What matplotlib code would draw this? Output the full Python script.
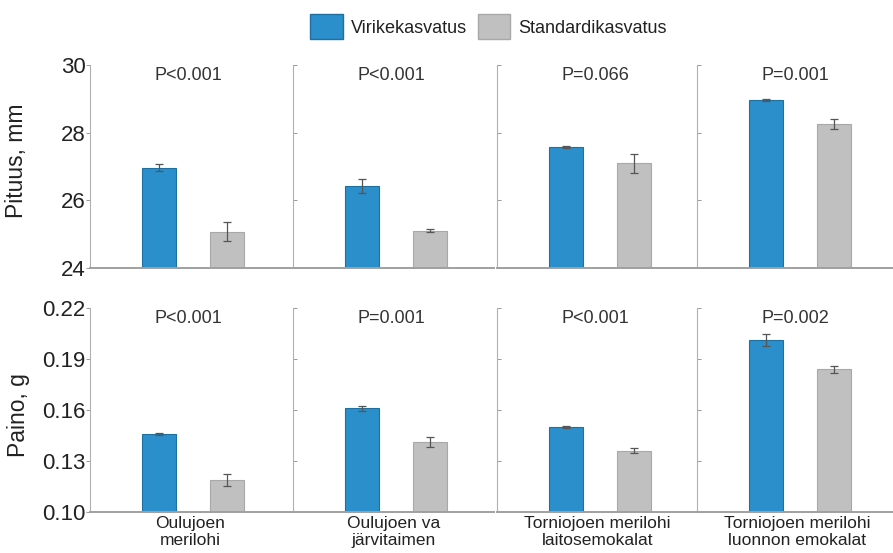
import matplotlib.pyplot as plt
from matplotlib.patches import Patch

plt.rcParams['font.family'] = ['Liberation Sans', 'DejaVu Sans']

# Data
groups = ['Oulujoen\nmerilohi', 'Oulujoen va\njärvitaimen',
          'Torniojoen merilohi\nlaitosemokalat', 'Torniojoen merilohi\nluonnon emokalat']
series = ['Virikekasvatus', 'Standardikasvatus']

length_viri = [26.97, 26.42, 27.58, 28.97]
length_viri_err = [0.10, 0.20, 0.02, 0.03]
length_std = [25.07, 25.10, 27.10, 28.25]
length_std_err = [0.28, 0.05, 0.28, 0.15]
length_p = ['P<0.001', 'P<0.001', 'P=0.066', 'P=0.001']

weight_viri = [0.146, 0.161, 0.150, 0.201]
weight_viri_err = [0.0005, 0.0015, 0.0008, 0.0035]
weight_std = [0.119, 0.141, 0.136, 0.184]
weight_std_err = [0.0035, 0.003, 0.0015, 0.002]
weight_p = ['P<0.001', 'P=0.001', 'P<0.001', 'P=0.002']

blue = '#2b8fcb'
gray = '#c0c0c0'

fig = plt.figure(figsize=(8.93, 5.53), dpi=100)
W, H = 893, 553
lefts = [90, 293, 497, 697]
rows = [
    dict(top=65, bottom=268, viri=length_viri, viri_err=length_viri_err,
         std=length_std, std_err=length_std_err, p=length_p,
         ylim=(24, 30), yticks=[24, 26, 28, 30], ytl=['24', '26', '28', '30'],
         ylabel='Pituus, mm', lab_xy=(-0.31, 0.53)),
    dict(top=308, bottom=512, viri=weight_viri, viri_err=weight_viri_err,
         std=weight_std, std_err=weight_std_err, p=weight_p,
         ylim=(0.10, 0.22), yticks=[0.10, 0.13, 0.16, 0.19, 0.22],
         ytl=['0.10', '0.13', '0.16', '0.19', '0.22'], ylabel='Paino, g',
         lab_xy=(-0.30, 0.475)),
]

for r, row in enumerate(rows):
    for i, left in enumerate(lefts):
        ax = fig.add_axes([left / W, 1 - row['bottom'] / H, 201 / W,
                           (row['bottom'] - row['top']) / H])
        ax.bar(0.343, row['viri'][i], width=0.17, color=blue,
               edgecolor='#1f6f9f', linewidth=0.8, zorder=2)
        ax.bar(0.68, row['std'][i], width=0.17, color=gray,
               edgecolor='#a8a8a8', linewidth=0.8, zorder=2)
        ax.errorbar([0.343, 0.68], [row['viri'][i], row['std'][i]],
                    yerr=[row['viri_err'][i], row['std_err'][i]], fmt='none',
                    ecolor='#555555', elinewidth=0.9, capsize=3, capthick=0.9, zorder=3)
        ax.set_xlim(0, 1)
        ax.set_ylim(*row['ylim'])
        ax.set_yticks(row['yticks'])
        ax.text(0.49, 0.95, row['p'][i], transform=ax.transAxes, ha='center',
                va='center', fontsize=13, color='#333333')
        for s in ['top', 'right']:
            ax.spines[s].set_visible(False)
        ax.spines['left'].set_color('#b0b0b0')
        ax.spines['left'].set_linewidth(0.8)
        ax.spines['bottom'].set_color('#a0a0a0')
        ax.spines['bottom'].set_linewidth(1.4)
        if i == 0:
            ax.set_yticklabels(row['ytl'], fontsize=16, color='#222222')
            ax.tick_params(axis='y', direction='out', length=3, width=0.7,
                           color='#999999', pad=0)
            ax.set_ylabel(row['ylabel'], fontsize=16.5, color='#222222')
            ax.yaxis.set_label_coords(*row['lab_xy'])
        else:
            ax.set_yticklabels([])
            ax.tick_params(axis='y', direction='in', length=3, width=0.7, color='#999999')
        if r == 1:
            ax.set_xticks([0.5])
            ax.set_xticklabels([groups[i]], fontsize=12.5, color='#222222', linespacing=1.15)
            ax.tick_params(axis='x', length=0, pad=3)
        else:
            ax.set_xticks([])

handles = [Patch(facecolor=blue, edgecolor='#1f6f9f', label=series[0]),
           Patch(facecolor=gray, edgecolor='#a8a8a8', label=series[1])]
fig.legend(handles=handles, loc='upper center', bbox_to_anchor=(0.547, 1.0),
           ncol=2, frameon=False, fontsize=13, handlelength=1.8, handleheight=1.75,
           columnspacing=0.6, handletextpad=0.45, labelcolor='#222222',
           borderaxespad=0.4)

fig.savefig('out.png', dpi=100)
